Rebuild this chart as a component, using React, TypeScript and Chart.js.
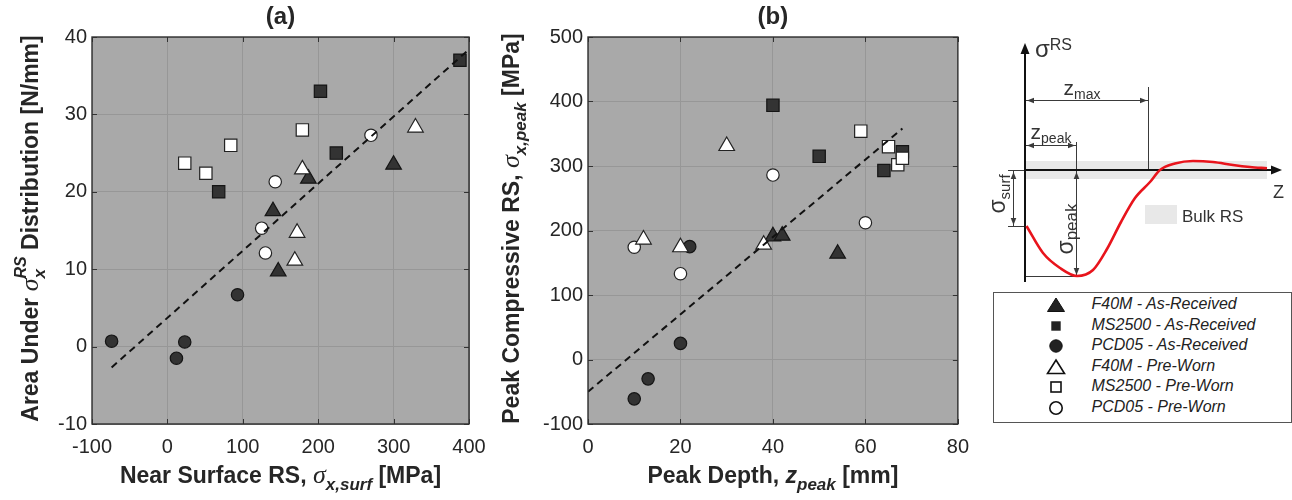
import React, { useEffect, useRef } from 'react';
import { Chart, registerables } from 'chart.js';

Chart.register(...registerables);

const SANS = '"Liberation Sans", Arial, Helvetica, sans-serif';
const SERIF = '"Liberation Serif", "Times New Roman", serif';
const TEXT = '#262626';
const BG = '#a9a9a9';
const GRID = '#979797';
const DARK = '#333333';

// ---------- series labels ----------
const seriesLabels = [
  'F40M - As-Received',
  'MS2500 - As-Received',
  'PCD05 - As-Received',
  'F40M - Pre-Worn',
  'MS2500 - Pre-Worn',
  'PCD05 - Pre-Worn',
];

// ---------- Panel (a): near-surface RS [MPa] vs area under distribution [N/mm] ----------
const aF40MArX = [140, 187, 147, 300];
const aF40MArY = [17.5, 21.7, 9.7, 23.5];
const aMS2500ArX = [68, 203, 224, 388];
const aMS2500ArY = [20, 33, 25, 37];
const aPCD05ArX = [-74, 23, 12, 93];
const aPCD05ArY = [0.7, 0.6, -1.5, 6.7];
const aF40MPwX = [179, 329, 172, 169];
const aF40MPwY = [22.9, 28.3, 14.7, 11.1];
const aMS2500PwX = [23, 51, 84, 179];
const aMS2500PwY = [23.7, 22.4, 26, 28];
const aPCD05PwX = [143, 125, 130, 270];
const aPCD05PwY = [21.3, 15.3, 12.1, 27.3];
const aFitX = [-74, 400];
const aFitY = [-2.7, 38.4];
const aXTicks = [-100, 0, 100, 200, 300, 400];
const aYTicks = [-10, 0, 10, 20, 30, 40];

// ---------- Panel (b): peak depth [mm] vs peak compressive RS [MPa] ----------
const bF40MArX = [40, 42, 54];
const bF40MArY = [191, 192, 164];
const bMS2500ArX = [40, 50, 64, 68];
const bMS2500ArY = [394, 315, 293, 322];
const bPCD05ArX = [22, 20, 13, 10];
const bPCD05ArY = [175, 25, -30, -61];
const bF40MPwX = [30, 12, 20, 38];
const bF40MPwY = [331, 186, 174, 178];
const bMS2500PwX = [59, 65, 67, 68];
const bMS2500PwY = [354, 330, 302, 312];
const bPCD05PwX = [40, 10, 20, 60];
const bPCD05PwY = [286, 174, 133, 212];
const bFitX = [0, 68];
const bFitY = [-50, 358];
const bXTicks = [0, 20, 40, 60, 80];
const bYTicks = [-100, 0, 100, 200, 300, 400, 500];

// ---------- Schematic RS profile (arbitrary units) ----------
const curveZ = [0.15, 1.8, 3.5, 5.2, 6.8, 8.2, 9.6, 11.0, 12.5, 13.5, 15.0, 16.8, 18.8, 20.8, 22.5, 24.2];
const curveSigma = [-5.6, -8.3, -9.8, -10.6, -10.0, -7.9, -5.2, -2.8, -1.2, 0, 0.65, 0.9, 0.8, 0.5, 0.3, 0.17];
const zMax = 12.3;
const zPeak = 5.1;
const sigmaSurf = -5.6;
const sigmaPeak = -10.6;
const bulkHalf = 0.9;
const bulkEnd = 24.2;

type Seg = { t: string; f: string; dy?: number; stack?: boolean };

function richWidth(ctx: CanvasRenderingContext2D, segs: Seg[]) {
  let w = 0;
  let pend = 0;
  for (const s of segs) {
    ctx.font = s.f;
    const sw = ctx.measureText(s.t).width;
    if (s.stack) { pend = Math.max(pend, sw); continue; }
    w += Math.max(pend, sw);
    pend = 0;
  }
  return w + pend;
}

function drawRich(ctx: CanvasRenderingContext2D, segs: Seg[], x: number, y: number, angle: number, align: 'center' | 'left', color: string) {
  ctx.save();
  ctx.translate(x, y);
  ctx.rotate(angle);
  ctx.fillStyle = color;
  ctx.textBaseline = 'alphabetic';
  ctx.textAlign = 'left';
  const total = richWidth(ctx, segs);
  let cx = align === 'center' ? -total / 2 : 0;
  let pend = 0;
  for (const s of segs) {
    ctx.font = s.f;
    const sw = ctx.measureText(s.t).width;
    ctx.fillText(s.t, cx, s.dy || 0);
    if (s.stack) { pend = Math.max(pend, sw); continue; }
    cx += Math.max(pend, sw);
    pend = 0;
  }
  ctx.restore();
}

function pts(xs: number[], ys: number[]) {
  return xs.map((x, i) => ({ x, y: ys[i] }));
}

function marker(xs: number[], ys: number[], label: string, style: string, filled: boolean, radius: number, order: number) {
  return {
    type: 'scatter',
    label,
    data: pts(xs, ys),
    pointStyle: style,
    pointRadius: radius,
    pointHoverRadius: radius,
    backgroundColor: filled ? DARK : '#ffffff',
    borderColor: filled ? '#151515' : '#222222',
    borderWidth: 1.2,
    showLine: false,
    order,
  };
}

type PanelSpec = {
  id: string;
  left: number;
  width: number;
  yAxisWidth: number;
  padRight: number;
  xMin: number; xMax: number; xStep: number;
  yMin: number; yMax: number; yStep: number;
  xTicks: number[]; yTicks: number[];
  title: string;
  xTitle: Seg[];
  yTitle: Seg[];
  yTitleX: number;
  datasets: any[];
};

const B23 = `bold 23px ${SANS}`;
const BI17 = `bold italic 17px ${SANS}`;
const SIG = `italic 26px ${SERIF}`;

const panelA: PanelSpec = {
  id: 'a', left: 0, width: 500, yAxisWidth: 92, padRight: 31,
  xMin: -100, xMax: 400, xStep: 100, yMin: -10, yMax: 40, yStep: 10,
  xTicks: aXTicks, yTicks: aYTicks,
  title: '(a)',
  xTitle: [
    { t: 'Near Surface RS, ', f: B23 },
    { t: 'σ', f: SIG },
    { t: 'x,surf', f: BI17, dy: 7 },
    { t: ' [MPa]', f: B23 },
  ],
  yTitle: [
    { t: 'Area Under ', f: B23 },
    { t: 'σ', f: SIG },
    { t: 'RS', f: `bold italic 16px ${SANS}`, dy: -12, stack: true },
    { t: 'x', f: BI17, dy: 7 },
    { t: ' Distribution [N/mm]', f: B23 },
  ],
  yTitleX: 38,
  datasets: [
    { type: 'scatter', label: 'fit', data: pts(aFitX, aFitY), showLine: true, borderColor: '#111', borderWidth: 2, borderDash: [7, 5], pointRadius: 0, fill: false, order: 0 },
    marker(aF40MPwX, aF40MPwY, seriesLabels[3], 'triangle', false, 9, 1),
    marker(aMS2500PwX, aMS2500PwY, seriesLabels[4], 'rect', false, 8.7, 1),
    marker(aPCD05PwX, aPCD05PwY, seriesLabels[5], 'circle', false, 6.2, 1),
    marker(aF40MArX, aF40MArY, seriesLabels[0], 'triangle', true, 9, 2),
    marker(aMS2500ArX, aMS2500ArY, seriesLabels[1], 'rect', true, 8.7, 2),
    marker(aPCD05ArX, aPCD05ArY, seriesLabels[2], 'circle', true, 6.2, 2),
  ],
};

const panelB: PanelSpec = {
  id: 'b', left: 500, width: 480, yAxisWidth: 88, padRight: 14,
  xMin: 0, xMax: 80, xStep: 20, yMin: -100, yMax: 500, yStep: 100,
  xTicks: bXTicks, yTicks: bYTicks,
  title: '(b)',
  xTitle: [
    { t: 'Peak Depth, ', f: B23 },
    { t: 'z', f: `bold italic 23px ${SANS}` },
    { t: 'peak', f: BI17, dy: 7 },
    { t: ' [mm]', f: B23 },
  ],
  yTitle: [
    { t: 'Peak Compressive RS, ', f: B23 },
    { t: 'σ', f: SIG },
    { t: 'x,peak', f: BI17, dy: 7 },
    { t: ' [MPa]', f: B23 },
  ],
  yTitleX: 19,
  datasets: [
    { type: 'scatter', label: 'fit', data: pts(bFitX, bFitY), showLine: true, borderColor: '#111', borderWidth: 2, borderDash: [7, 5], pointRadius: 0, fill: false, order: 0 },
    marker(bF40MPwX, bF40MPwY, seriesLabels[3], 'triangle', false, 9, 1),
    marker(bMS2500PwX, bMS2500PwY, seriesLabels[4], 'rect', false, 8.7, 1),
    marker(bPCD05PwX, bPCD05PwY, seriesLabels[5], 'circle', false, 6.2, 1),
    marker(bF40MArX, bF40MArY, seriesLabels[0], 'triangle', true, 9, 2),
    marker(bMS2500ArX, bMS2500ArY, seriesLabels[1], 'rect', true, 8.7, 2),
    marker(bPCD05ArX, bPCD05ArY, seriesLabels[2], 'circle', true, 6.2, 2),
  ],
};

function panelConfig(p: PanelSpec): any {
  const decor = {
    id: 'decor_' + p.id,
    beforeDraw(chart: any) {
      const { ctx, chartArea: a } = chart;
      ctx.save();
      ctx.fillStyle = BG;
      ctx.fillRect(a.left, a.top, a.right - a.left, a.bottom - a.top);
      ctx.restore();
    },
    afterDraw(chart: any) {
      const { ctx, chartArea: a, scales } = chart;
      const xs = scales.x;
      const ys = scales.y;
      ctx.save();
      ctx.strokeStyle = '#333';
      ctx.lineWidth = 1;
      ctx.beginPath();
      for (const v of p.xTicks) {
        const px = Math.round(xs.getPixelForValue(v)) + 0.5;
        ctx.moveTo(px, a.bottom); ctx.lineTo(px, a.bottom - 5);
        ctx.moveTo(px, a.top); ctx.lineTo(px, a.top + 5);
      }
      for (const v of p.yTicks) {
        const py = Math.round(ys.getPixelForValue(v)) + 0.5;
        ctx.moveTo(a.left, py); ctx.lineTo(a.left + 5, py);
        ctx.moveTo(a.right, py); ctx.lineTo(a.right - 5, py);
      }
      ctx.stroke();
      ctx.lineWidth = 1.4;
      ctx.strokeStyle = '#303030';
      ctx.strokeRect(a.left, a.top, a.right - a.left, a.bottom - a.top);
      ctx.fillStyle = TEXT;
      ctx.font = `bold 24px ${SANS}`;
      ctx.textAlign = 'center';
      ctx.textBaseline = 'middle';
      const cx = (a.left + a.right) / 2;
      ctx.fillText(p.title, cx, 17);
      ctx.restore();
      drawRich(ctx, p.xTitle, cx, 483, 0, 'center', TEXT);
      drawRich(ctx, p.yTitle, p.yTitleX, (a.top + a.bottom) / 2 - 2, -Math.PI / 2, 'center', TEXT);
    },
  };
  const tickFont = { family: SANS, size: 20 };
  return {
    type: 'scatter',
    data: { datasets: p.datasets },
    options: {
      responsive: false,
      animation: false,
      devicePixelRatio: 1,
      events: [],
      layout: { padding: { left: 0, right: p.padRight, top: 37, bottom: 0 } },
      plugins: { legend: { display: false }, tooltip: { enabled: false } },
      scales: {
        x: {
          type: 'linear', min: p.xMin, max: p.xMax,
          ticks: { stepSize: p.xStep, font: tickFont, color: TEXT, padding: 11, autoSkip: false, maxRotation: 0 },
          grid: { color: GRID, lineWidth: 1, drawTicks: false },
          border: { display: false },
          afterFit: (s: any) => { s.height = 76; },
        },
        y: {
          type: 'linear', min: p.yMin, max: p.yMax,
          ticks: { stepSize: p.yStep, font: tickFont, color: TEXT, padding: 5, autoSkip: false },
          grid: { color: GRID, lineWidth: 1, drawTicks: false },
          border: { display: false },
          afterFit: (s: any) => { s.width = p.yAxisWidth; },
        },
      },
    },
    plugins: [decor],
  };
}

function Panel({ spec }: { spec: PanelSpec }) {
  const ref = useRef<HTMLCanvasElement>(null);
  useEffect(() => {
    const chart = new Chart(ref.current as HTMLCanvasElement, panelConfig(spec));
    return () => chart.destroy();
  }, []);
  return (
    <canvas
      ref={ref}
      width={spec.width}
      height={500}
      style={{ position: 'absolute', left: spec.left, top: 0, width: spec.width, height: 500 }}
    />
  );
}

function arrowHead(ctx: CanvasRenderingContext2D, tx: number, ty: number, dx: number, dy: number, len: number, hw: number) {
  const bx = tx - dx * len;
  const by = ty - dy * len;
  ctx.beginPath();
  ctx.moveTo(tx, ty);
  ctx.lineTo(bx - dy * hw, by + dx * hw);
  ctx.lineTo(bx + dy * hw, by - dx * hw);
  ctx.closePath();
  ctx.fill();
}

function schematicConfig(): any {
  const decor = {
    id: 'schemDecor',
    beforeDatasetsDraw(chart: any) {
      const { ctx, scales } = chart;
      const X = (v: number) => scales.x.getPixelForValue(v);
      const Y = (v: number) => scales.y.getPixelForValue(v);
      ctx.save();
      // bulk RS band
      ctx.fillStyle = '#e8e8e8';
      ctx.fillRect(X(0), Y(bulkHalf), X(bulkEnd) - X(0), Y(-bulkHalf) - Y(bulkHalf));
      // bulk RS legend swatch + text
      ctx.fillRect(165, 205, 32, 19);
      ctx.fillStyle = '#333';
      ctx.font = `17px ${SANS}`;
      ctx.textAlign = 'left';
      ctx.textBaseline = 'alphabetic';
      ctx.fillText('Bulk RS', 202, 222);

      // thin annotation lines
      ctx.strokeStyle = '#3a3a3a';
      ctx.fillStyle = '#3a3a3a';
      ctx.lineWidth = 1;
      ctx.beginPath();
      // z_max
      ctx.moveTo(X(zMax) + 0.5, Y(8.3)); ctx.lineTo(X(zMax) + 0.5, Y(0));
      ctx.moveTo(X(0), Y(7.0) + 0.5); ctx.lineTo(X(zMax), Y(7.0) + 0.5);
      // z_peak
      ctx.moveTo(X(zPeak) + 0.5, Y(2.8)); ctx.lineTo(X(zPeak) + 0.5, Y(sigmaPeak));
      ctx.moveTo(X(0), Y(2.5) + 0.5); ctx.lineTo(X(zPeak), Y(2.5) + 0.5);
      // sigma_peak baseline
      ctx.moveTo(X(0), Y(sigmaPeak) + 0.5); ctx.lineTo(X(zPeak), Y(sigmaPeak) + 0.5);
      // sigma_surf
      ctx.moveTo(X(-1.7), Y(0) + 0.5); ctx.lineTo(X(0), Y(0) + 0.5);
      ctx.moveTo(X(-1.7), Y(sigmaSurf) + 0.5); ctx.lineTo(X(0), Y(sigmaSurf) + 0.5);
      ctx.moveTo(X(-1.2) + 0.5, Y(0)); ctx.lineTo(X(-1.2) + 0.5, Y(sigmaSurf));
      ctx.stroke();
      const L = 7, H = 2.8;
      arrowHead(ctx, X(0) + 2, Y(7.0) + 0.5, -1, 0, L, H);
      arrowHead(ctx, X(zMax) - 1, Y(7.0) + 0.5, 1, 0, L, H);
      arrowHead(ctx, X(0) + 2, Y(2.5) + 0.5, -1, 0, L, H);
      arrowHead(ctx, X(zPeak) - 1, Y(2.5) + 0.5, 1, 0, L, H);
      arrowHead(ctx, X(zPeak) + 0.5, Y(0) + 2, 0, -1, L, H);
      arrowHead(ctx, X(zPeak) + 0.5, Y(sigmaPeak) - 1, 0, 1, L, H);
      arrowHead(ctx, X(-1.2) + 0.5, Y(0) + 2, 0, -1, L, H);
      arrowHead(ctx, X(-1.2) + 0.5, Y(sigmaSurf) - 1, 0, 1, L, H);

      // main axes
      ctx.strokeStyle = '#111';
      ctx.fillStyle = '#111';
      ctx.lineWidth = 2;
      ctx.beginPath();
      ctx.moveTo(X(0), Y(0)); ctx.lineTo(X(25.2), Y(0));
      ctx.moveTo(X(0), Y(-11.2)); ctx.lineTo(X(0), Y(12.2));
      ctx.stroke();
      arrowHead(ctx, X(25.7), Y(0), 1, 0, 11, 4.5);
      arrowHead(ctx, X(0), Y(12.7), 0, -1, 11, 4.5);
      ctx.restore();

      // labels
      const c = '#333';
      drawRich(ctx, [{ t: 'σ', f: `24px ${SANS}` }, { t: 'RS', f: `16px ${SANS}`, dy: -7 }], 55, 57, 0, 'left', c);
      drawRich(ctx, [{ t: 'Z', f: `18px ${SANS}` }], 293, 198, 0, 'left', c);
      drawRich(ctx, [{ t: 'z', f: `21px ${SANS}` }, { t: 'max', f: `14px ${SANS}`, dy: 4 }], 102, 95, 0, 'center', c);
      drawRich(ctx, [{ t: 'z', f: `21px ${SANS}` }, { t: 'peak', f: `14px ${SANS}`, dy: 4 }], 71, 139, 0, 'center', c);
      drawRich(ctx, [{ t: 'σ', f: `23px ${SANS}` }, { t: 'surf', f: `15px ${SANS}`, dy: 5 }], 25, 194, -Math.PI / 2, 'center', c);
      drawRich(ctx, [{ t: 'σ', f: `23px ${SANS}` }, { t: 'peak', f: `17px ${SANS}`, dy: 4 }], 93, 229, -Math.PI / 2, 'center', c);
    },
  };
  return {
    type: 'line',
    data: {
      datasets: [
        {
          label: 'RS profile',
          data: pts(curveZ, curveSigma),
          borderColor: '#e8141c',
          borderWidth: 2.6,
          pointRadius: 0,
          fill: false,
          tension: 0.4,
          cubicInterpolationMode: 'monotone',
          clip: false,
        },
      ],
    },
    options: {
      responsive: false,
      animation: false,
      devicePixelRatio: 1,
      events: [],
      layout: { padding: { left: 45, right: 7, top: 30, bottom: 0 } },
      plugins: { legend: { display: false }, tooltip: { enabled: false } },
      scales: {
        x: { type: 'linear', min: 0, max: 26, display: false },
        y: { type: 'linear', min: -12, max: 14, display: false },
      },
    },
    plugins: [decor],
  };
}

function Schematic() {
  const ref = useRef<HTMLCanvasElement>(null);
  useEffect(() => {
    const chart = new Chart(ref.current as HTMLCanvasElement, schematicConfig());
    return () => chart.destroy();
  }, []);
  return (
    <canvas
      ref={ref}
      width={312}
      height={290}
      style={{ position: 'absolute', left: 980, top: 0, width: 312, height: 290 }}
    />
  );
}

function LegendMarker({ kind }: { kind: number }) {
  const filled = kind < 3;
  const fill = filled ? '#222' : '#fff';
  const stroke = '#111';
  const shape = kind % 3;
  return (
    <svg width={20} height={20} style={{ position: 'absolute', left: 0, top: 0 }}>
      {shape === 0 && <polygon points="10,3 18.5,16.5 1.5,16.5" fill={fill} stroke={stroke} strokeWidth={filled ? 1 : 1.6} />}
      {shape === 1 && (filled
        ? <rect x={5.3} y={5.3} width={9.4} height={9.4} fill={fill} />
        : <rect x={5} y={5} width={10} height={10} fill={fill} stroke={stroke} strokeWidth={1.6} />)}
      {shape === 2 && <circle cx={10} cy={10} r={6.2} fill={fill} stroke={stroke} strokeWidth={filled ? 1 : 1.6} />}
    </svg>
  );
}

function Legend() {
  const rowTop0 = 305.5;
  const rowStep = 20.6;
  return (
    <div
      style={{
        position: 'absolute', left: 993, top: 292, width: 299, height: 131,
        boxSizing: 'border-box', border: '1.5px solid #555', background: '#fff',
      }}
    >
      {seriesLabels.map((lab, i) => {
        const cy = rowTop0 + i * rowStep - 292;
        return (
          <div key={lab}>
            <div style={{ position: 'absolute', left: 1056 - 993 - 10 - 1.5, top: cy - 10 - 1.5, width: 20, height: 20 }}>
              <LegendMarker kind={i} />
            </div>
            <div
              style={{
                position: 'absolute', left: 1092 - 993 - 1.5, top: cy - 10 - 1.5, height: 20, lineHeight: '20px',
                font: `italic 16px ${SANS}`, color: '#222', whiteSpace: 'nowrap',
              }}
            >
              {lab}
            </div>
          </div>
        );
      })}
    </div>
  );
}

export default function App() {
  return (
    <div style={{ position: 'absolute', left: 0, top: 0, width: 1292, height: 500, overflow: 'hidden', background: '#fff' }}>
      <Panel spec={panelA} />
      <Panel spec={panelB} />
      <Schematic />
      <Legend />
    </div>
  );
}
